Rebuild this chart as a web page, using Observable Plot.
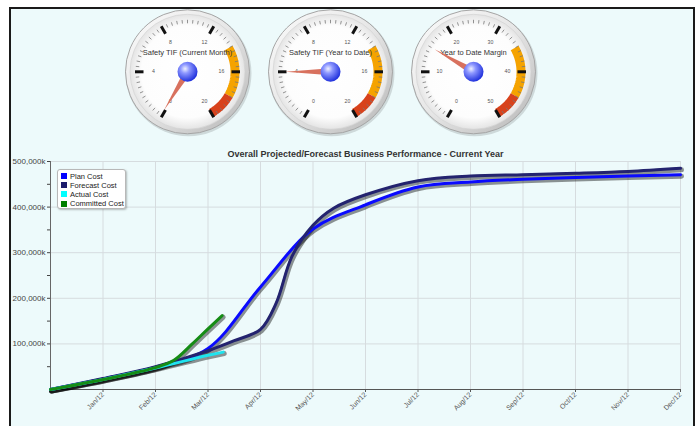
<!DOCTYPE html>
<html><head><meta charset="utf-8">
<script src="https://cdn.jsdelivr.net/npm/d3@7"></script>
<script src="https://cdn.jsdelivr.net/npm/@observablehq/plot@0.6"></script>
<style>
body{margin:0;background:#fff;width:699px;height:426px;overflow:hidden;font-family:"Liberation Sans",Arial,sans-serif;}
#frame{position:absolute;left:9px;top:7px;width:682px;height:430px;border:2px solid #1a1a1a;background:#edfafb;overflow:hidden;}
#gauges{position:absolute;left:0;top:0;}
#chart{position:absolute;left:0;top:135px;}
#legend{position:absolute;left:46px;top:160px;width:67px;height:38px;background:#fff;border:1px solid #b8b8b8;border-radius:3px;box-shadow:1px 1px 2px rgba(0,0,0,.25);font-size:7.5px;color:#222;}
.item{position:absolute;left:3px;height:9px;line-height:9px;white-space:nowrap}
.sw{display:inline-block;width:6px;height:6px;margin-right:3px;vertical-align:-0.5px}
svg{overflow:visible}
</style></head><body>
<div id="frame"><div id="gauges"></div><div id="chart"></div><div id="legend"></div></div>
<script>
// ---------- data ----------
const gaugeTitles = ["Safety TIF (Current Month)", "Safety TIF (Year to Date)", "Year to Date Margin"];
const gaugeMin = [0, 0, 0];
const gaugeMax = [20, 20, 50];
const gaugeStep = [4, 4, 10];
const gaugeValues = [0.1, 4, 15];
const gaugeWarnFrom = [14, 14, 35];
const gaugeDangerFrom = [18, 18, 45];

const chartTitle = "Overall Projected/Forecast Business Performance - Current Year";
const monthLabels = ["Jan/12","Feb/12","Mar/12","Apr/12","May/12","Jun/12","Jul/12","Aug/12","Sep/12","Oct/12","Nov/12","Dec/12"];
const seriesNames = ["Plan Cost", "Forecast Cost", "Actual Cost", "Committed Cost"];
const seriesColors = ["#0a0aff", "#23236f", "#1fe3ee", "#158c15"];
const legendColors = ["#0000ff", "#1c1c6c", "#00ffff", "#008000"];

// month index: 0 = start (Dec/11), 1 = Jan/12 ... 12 = Dec/12
const planMonths = [0,1,2,3,4,5,6,7,8,9,10,11,12];
const planCost = [0,23000,49000,90000,225000,352000,405000,444000,455000,461000,465000,468000,471000];
const forecastMonths = [0,1,2,3,3.5,4,4.3,4.6,5,5.4,6,7,8,9,10,11,12];
const forecastCost = [0,24000,50000,85000,107000,132000,190000,292000,360000,398000,427000,458000,468000,471000,474000,478000,485000];
const actualMonths = [0,1,2,3,3.29];
const actualCost = [0,22000,47000,75000,82000];
const committedMonths = [0,1,2,2.35,2.7,3,3.27];
const committedCost = [0,22000,48000,64000,100000,133000,162000];

const yTicks = [100000,200000,300000,400000,500000];
const yMinorTicks = [50000,150000,250000,350000,450000];

// ---------- gauges ----------
const GW = 682, GH = 135;
const gcx = [176, 319, 462], gcy = 62.3;
const rad = a => a * Math.PI / 180;
const ang = (g, v) => -150 + 300 * (v - gaugeMin[g]) / (gaugeMax[g] - gaugeMin[g]);
const px = (g, r, a) => gcx[g] + r * Math.sin(rad(a));
const py = (g, r, a) => gcy - r * Math.cos(rad(a));
const G = gaugeTitles.map((t, g) => g);

const majors = [], minors = [], labels = [], bands = [];
G.forEach(g => {
  const step = gaugeStep[g];
  for (let v = gaugeMin[g]; v <= gaugeMax[g] + 1e-9; v += step) {
    const a = ang(g, v);
    majors.push({x1: px(g,44,a), y1: py(g,44,a), x2: px(g,52.5,a), y2: py(g,52.5,a)});
    labels.push({x: px(g,34,a), y: py(g,34,a), t: String(v)});
  }
  const ms = step / 10;
  for (let i = 0; i <= (gaugeMax[g]-gaugeMin[g]) / ms + 1e-9; i++) {
    if (i % 10 === 0) continue;
    const a = ang(g, gaugeMin[g] + i*ms);
    minors.push({x1: px(g,48.5,a), y1: py(g,48.5,a), x2: px(g,52,a), y2: py(g,52,a)});
  }
  [[gaugeWarnFrom[g], gaugeDangerFrom[g], "#f5a300"], [gaugeDangerFrom[g], gaugeMax[g], "#d8421c"]].forEach(([v0, v1, c], k) => {
    const a0 = ang(g, v0), a1 = ang(g, v1);
    for (let a = a0; a <= a1 + 1e-9; a += (a1 - a0) / 30) bands.push({x: px(g,47.5,a), y: py(g,47.5,a), z: g*2+k, c});
  });
});
const centers = G.map(g => ({x: gcx[g], y: gcy, g}));
const needles = G.map(g => ({x: gcx[g], y: gcy, a: ang(g, gaugeValues[g])}));
const titles = G.map(g => ({x: gcx[g], y: gcy - 19.6, t: gaugeTitles[g]}));

const gsvg = Plot.plot({
  width: GW, height: GH, margin: 0,
  style: {background: "transparent", fontFamily: "'Liberation Sans', Arial, sans-serif"},
  x: {domain: [0, GW], range: [0, GW], axis: null},
  y: {domain: [0, GH], range: [0, GH], axis: null},
  color: {type: "identity"},
  marks: [
    Plot.dot(centers, {x: "x", y: "y", r: 63, fill: "#000", fillOpacity: 0.13, dx: 1, dy: 1.5}),
    Plot.dot(centers, {x: "x", y: "y", r: 62, fill: "url(#bezelGrad)", stroke: "#a5a5a5", strokeWidth: 1}),
    Plot.dot(centers, {x: "x", y: "y", r: 57.5, fill: "url(#faceGrad)", stroke: "#d0d0d0", strokeWidth: 0.6}),
    Plot.line(bands, {x: "x", y: "y", z: "z", stroke: "c", strokeWidth: 9, strokeLinecap: "butt", curve: "linear"}),
    Plot.link(minors, {x1: "x1", y1: "y1", x2: "x2", y2: "y2", stroke: "#777", strokeWidth: 0.8}),
    Plot.link(majors, {x1: "x1", y1: "y1", x2: "x2", y2: "y2", stroke: "#111", strokeWidth: 3, strokeLinecap: "butt"}),
    Plot.text(labels, {x: "x", y: "y", text: "t", fontSize: 5.2, fill: "#555"}),
    Plot.text(titles, {x: "x", y: "y", text: "t", fontSize: 7.5, fill: "#333"}),
    Plot.vector(needles, {x: "x", y: "y", rotate: "a", length: 45, shape: "spike", r: 3.5, anchor: "start", fill: "#d8715e", stroke: "none"}),
    Plot.dot(centers, {x: "x", y: "y", r: 10, fill: "url(#ballGrad)"})
  ]
});
d3.select(gsvg).insert("defs", ":first-child").html(`
  <linearGradient id="bezelGrad" x1="0" y1="0" x2="1" y2="1">
    <stop offset="0" stop-color="#fbfbfb"/><stop offset="0.5" stop-color="#e6e6e6"/><stop offset="1" stop-color="#b5b5b5"/>
  </linearGradient>
  <radialGradient id="faceGrad" cx="0.5" cy="0.5" r="0.5">
    <stop offset="0" stop-color="#ffffff"/><stop offset="0.8" stop-color="#fdfdfd"/><stop offset="1" stop-color="#e4e4e4"/>
  </radialGradient>
  <radialGradient id="ballGrad" cx="0.38" cy="0.35" r="0.65">
    <stop offset="0" stop-color="#eef0ff"/><stop offset="0.35" stop-color="#8d97ff"/><stop offset="1" stop-color="#2233dd"/>
  </radialGradient>`);
document.getElementById("gauges").append(gsvg);

// ---------- line chart ----------
const rows = [];
[[planMonths, planCost], [forecastMonths, forecastCost], [actualMonths, actualCost], [committedMonths, committedCost]]
  .forEach(([ms, vs], i) => ms.forEach((m, j) => rows.push({m, v: vs[j], s: seriesNames[i]})));

const csvg = Plot.plot({
  width: 682, height: 290,
  marginLeft: 39, marginRight: 13, marginTop: 17, marginBottom: 45,
  style: {background: "transparent", fontFamily: "'Liberation Sans', Arial, sans-serif"},
  x: {domain: [0, 12], label: null},
  y: {domain: [0, 500000], label: null},
  color: {domain: seriesNames, range: seriesColors},
  marks: [
    Plot.gridX(d3.range(1, 13), {stroke: "#d6dcdf", strokeOpacity: 1}),
    Plot.gridY(yTicks, {stroke: "#d6dcdf", strokeOpacity: 1}),
    Plot.ruleX([0], {stroke: "#666"}),
    Plot.ruleY([0], {stroke: "#555"}),
    Plot.line(rows, {x: "m", y: "v", z: "s", stroke: "#000", strokeOpacity: 0.42, strokeWidth: 5, dx: 1, dy: 1.5, curve: "catmull-rom"}),
    Plot.line(rows, {x: "m", y: "v", z: "s", stroke: "s", strokeWidth: 3, curve: "catmull-rom"}),
    Plot.axisX(d3.range(1, 13), {label: null, tickFormat: i => monthLabels[i - 1], tickRotate: -45, fontSize: 7, tickSize: 3, tickPadding: 1, color: "#555"}),
    Plot.axisY(yTicks, {label: null, tickFormat: d => d3.format(",")(d) + "k", tickSize: 3, tickPadding: 2, fontSize: 8, color: "#444"}),
    Plot.axisY(yMinorTicks, {label: null, tickFormat: () => "", tickSize: 3, color: "#444"}),
    Plot.text([chartTitle], {frameAnchor: "top", dy: -7, lineAnchor: "middle", fontSize: 9, fontWeight: "bold", fill: "#333"})
  ]
});
document.getElementById("chart").append(csvg);

// ---------- legend ----------
const lg = d3.select("#legend");
seriesNames.forEach((n, i) => {
  const it = lg.append("div").attr("class", "item").style("top", (1.5 + i * 9.2) + "px");
  it.append("span").attr("class", "sw").style("background", legendColors[i]);
  it.append("span").text(n);
});
</script>
</body></html>
